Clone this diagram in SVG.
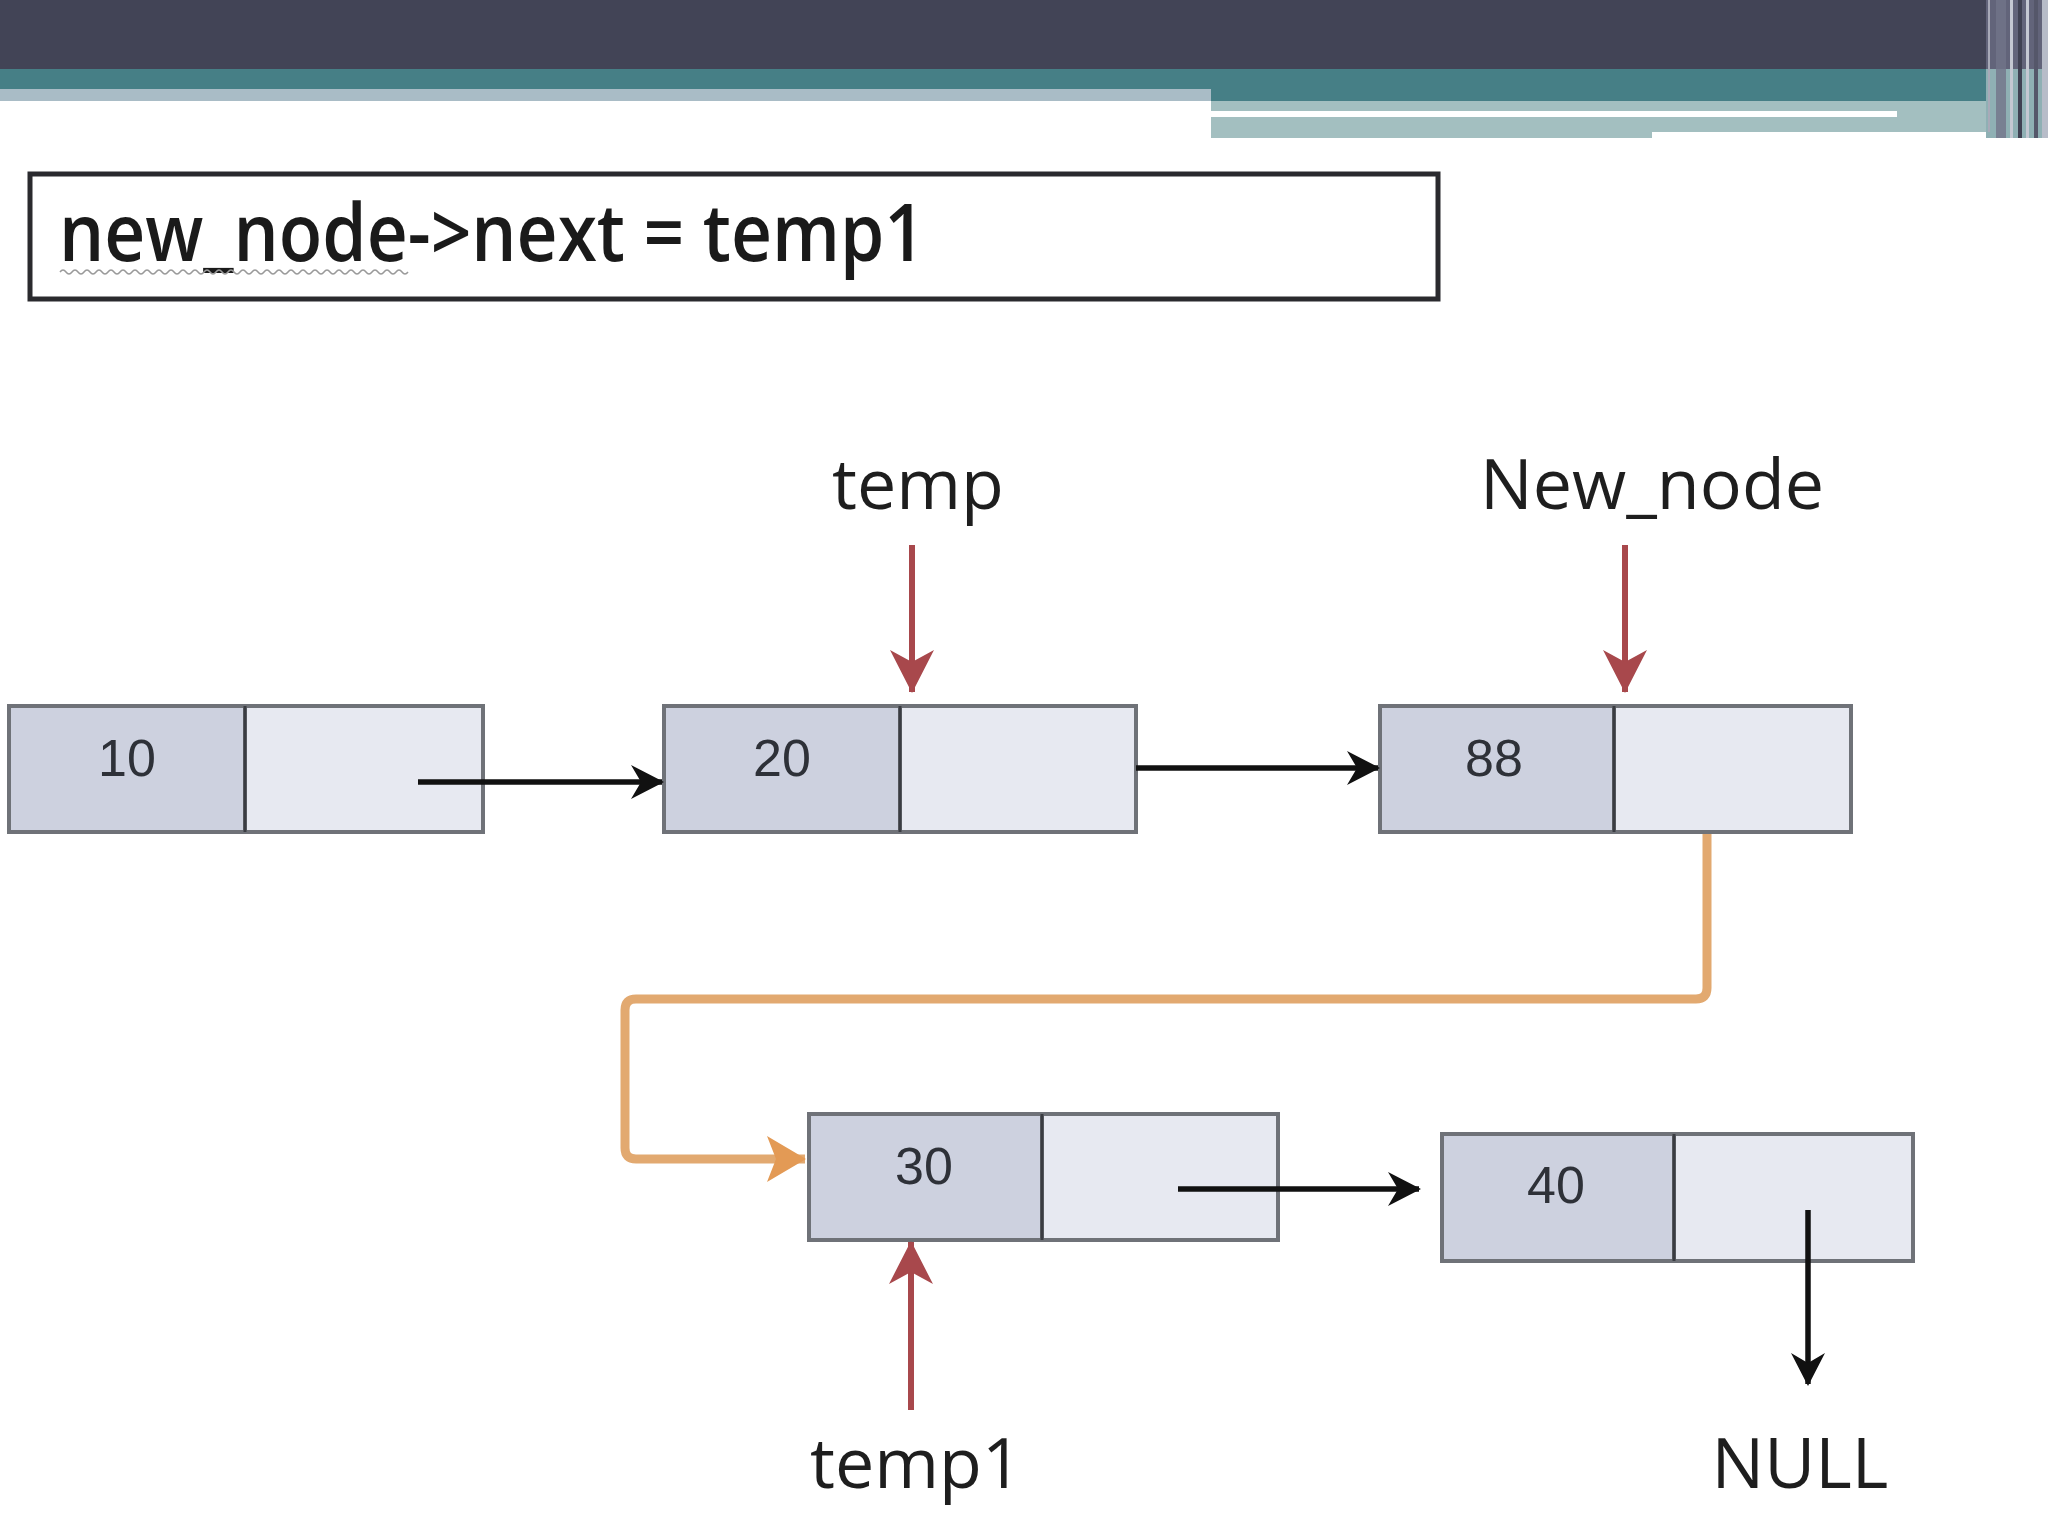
<svg xmlns="http://www.w3.org/2000/svg" width="2048" height="1536" viewBox="0 0 2048 1536">
<style>
.cellA{fill:#cdd1df;stroke:#6f7278;stroke-width:4}
.cellB{fill:#e7e9f1;stroke:#6f7278;stroke-width:4}
.div{stroke:#3a3c42;stroke-width:3}
.num{font-family:"Liberation Sans",Arial,sans-serif;font-size:52px;fill:#2e3138;text-anchor:middle}
.lbl{font-family:"Open Sans","Noto Sans",sans-serif;font-size:70px;fill:#1e1e1e;text-anchor:middle}
.blk{stroke:#111;stroke-width:5.5;fill:none}
.red{stroke:#a8484c;stroke-width:6;fill:none}
.org{stroke:#e2a970;stroke-width:9;fill:none;stroke-linejoin:round}
</style>
<defs>
<marker id="arrB" viewBox="0 0 36 38" refX="33" refY="19" markerWidth="36" markerHeight="38" markerUnits="userSpaceOnUse" orient="auto">
<path d="M2,2 L35,19 L2,36 L12,19 Z" fill="#111"/>
</marker>
<marker id="arrR" viewBox="0 0 46 48" refX="44" refY="24" markerWidth="46" markerHeight="48" markerUnits="userSpaceOnUse" orient="auto">
<path d="M2,2 L45,24 L2,46 L14,24 Z" fill="#a8484c"/>
</marker>
<marker id="arrO" viewBox="0 0 42 50" refX="40" refY="25" markerWidth="42" markerHeight="50" markerUnits="userSpaceOnUse" orient="auto">
<path d="M2,2 L41,25 L2,48 L11,25 Z" fill="#e39a55"/>
</marker>
</defs>
<rect width="2048" height="1536" fill="#ffffff"/>
<g id="header">
<rect x="0" y="0" width="2048" height="69" fill="#424456"/>
<rect x="0" y="69" width="1211" height="20" fill="#467f86"/>
<rect x="0" y="89" width="1211" height="12" fill="#a9bcc6"/>
<rect x="1211" y="69" width="837" height="32" fill="#467f86"/>
<rect x="1211" y="101" width="775" height="37" fill="#a3bfc0"/>
<rect x="1211" y="111" width="686" height="6" fill="#ffffff"/>
<rect x="1652" y="132" width="334" height="6" fill="#ffffff"/>
<rect x="1986" y="0" width="62" height="69" fill="#62647a"/>
<rect x="1986" y="69" width="62" height="69" fill="#8fb0b4"/>
<rect x="1988" y="0" width="2" height="132" fill="#a8aab8"/>
<rect x="1996" y="0" width="10" height="138" fill="#72748a" opacity="0.8"/>
<rect x="2010" y="0" width="3" height="138" fill="#c4c8d2"/>
<rect x="2018" y="0" width="4" height="138" fill="#3f4152"/>
<rect x="2026" y="0" width="3" height="138" fill="#c4c8d2"/>
<rect x="2034" y="0" width="4" height="138" fill="#55576a"/>
<rect x="2042" y="0" width="6" height="138" fill="#b7bcc8"/>
</g>
<g id="code">
<rect x="30" y="174" width="1408" height="125" fill="#ffffff" stroke="#2a2a2e" stroke-width="5"/>
<text x="59" y="261" font-family="Open Sans,Noto Sans,sans-serif" font-weight="600" font-size="80" fill="#1a1a1a" textLength="866" lengthAdjust="spacingAndGlyphs">new_node-&gt;next = temp1</text>
<path d="M60,272 q3,-4 6,0 t6,0 t6,0 t6,0 t6,0 t6,0 t6,0 t6,0 t6,0 t6,0 t6,0 t6,0 t6,0 t6,0 t6,0 t6,0 t6,0 t6,0 t6,0 t6,0 t6,0 t6,0 t6,0 t6,0 t6,0 t6,0 t6,0 t6,0 t6,0 t6,0 t6,0 t6,0 t6,0 t6,0 t6,0 t6,0 t6,0 t6,0 t6,0 t6,0 t6,0 t6,0 t6,0 t6,0 t6,0 t6,0 t6,0 t6,0 t6,0 t6,0 t6,0 t6,0 t6,0 t6,0 t6,0 t6,0 t6,0 t6,0" fill="none" stroke="#9a9a9a" stroke-width="1.5"/>
</g>
<g id="node10">
<rect class="cellA" x="9" y="706" width="236" height="126"/>
<rect class="cellB" x="245" y="706" width="238" height="126"/>
<line class="div" x1="245" y1="706" x2="245" y2="832"/>
<text class="num" x="127" y="776">10</text>
</g>
<g id="node20">
<rect class="cellA" x="664" y="706" width="236" height="126"/>
<rect class="cellB" x="900" y="706" width="236" height="126"/>
<line class="div" x1="900" y1="706" x2="900" y2="832"/>
<text class="num" x="782" y="776">20</text>
</g>
<g id="node88">
<rect class="cellA" x="1380" y="706" width="234" height="126"/>
<rect class="cellB" x="1614" y="706" width="237" height="126"/>
<line class="div" x1="1614" y1="706" x2="1614" y2="832"/>
<text class="num" x="1494" y="776">88</text>
</g>
<g id="node30">
<rect class="cellA" x="809" y="1114" width="233" height="126"/>
<rect class="cellB" x="1042" y="1114" width="236" height="126"/>
<line class="div" x1="1042" y1="1114" x2="1042" y2="1240"/>
<text class="num" x="924" y="1184">30</text>
</g>
<g id="node40">
<rect class="cellA" x="1442" y="1134" width="232" height="127"/>
<rect class="cellB" x="1674" y="1134" width="239" height="127"/>
<line class="div" x1="1674" y1="1134" x2="1674" y2="1261"/>
<text class="num" x="1556" y="1203">40</text>
</g>
<g id="labels">
<text class="lbl" x="918" y="509">temp</text>
<text class="lbl" x="1652" y="509">New_node</text>
<text class="lbl" x="916" y="1488">temp1</text>
<text class="lbl" x="1800" y="1488">NULL</text>
</g>
<g id="connectors">
<line class="blk" x1="418" y1="782" x2="662" y2="782" marker-end="url(#arrB)"/>
<line class="blk" x1="1136" y1="768" x2="1378" y2="768" marker-end="url(#arrB)"/>
<line class="blk" x1="1178" y1="1189" x2="1419" y2="1189" marker-end="url(#arrB)"/>
<line class="blk" x1="1808" y1="1210" x2="1808" y2="1384" marker-end="url(#arrB)"/>
<line class="red" x1="912" y1="545" x2="912" y2="692" marker-end="url(#arrR)"/>
<line class="red" x1="1625" y1="545" x2="1625" y2="692" marker-end="url(#arrR)"/>
<line class="red" x1="911" y1="1410" x2="911" y2="1242" marker-end="url(#arrR)"/>
<path class="org" d="M1707,834 L1707,988 Q1707,999 1696,999 L636,999 Q625,999 625,1010 L625,1148 Q625,1159 636,1159 L805,1159" marker-end="url(#arrO)"/>
</g>
</svg>
